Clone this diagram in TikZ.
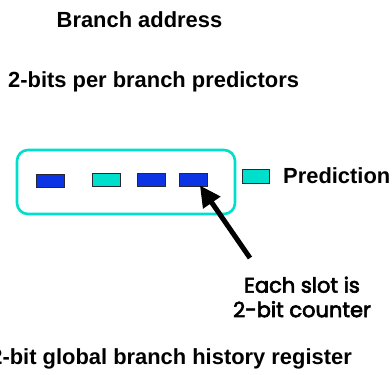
\documentclass[tikz,border=0pt]{standalone}
\usepackage{fontspec}
\setmainfont{Liberation Sans}
\newfontfamily\notefont{Poppins}[FakeBold=3]
\usetikzlibrary{arrows.meta}
\definecolor{slotblue}{RGB}{10,52,228}
\definecolor{slotcyan}{RGB}{0,222,204}
\definecolor{slotedge}{RGB}{40,40,50}
\tikzset{
  label/.style={inner sep=0pt, anchor=base west, font=\fontsize{21.9}{24}\selectfont\bfseries},
  slot/.style={draw=slotedge, line width=0.8pt, minimum width=28pt, minimum height=13pt, inner sep=0pt},
  bluesl/.style={slot, fill=slotblue},
  cyansl/.style={slot, fill=slotcyan},
  pointer/.style={line width=5pt, -{Triangle[length=21pt,width=20pt]}},
}
\begin{document}
\begin{tikzpicture}[x=1pt,y=-1pt]
\useasboundingbox (0,0) rectangle (392,375);
% headings
\node[label] (addr) at (56.5,27) {Branch address};
\node[label] (pred) at (8,87) {2-bits per branch predictors};
% predictor table
\draw[slotcyan, line width=2.6pt, rounded corners=11pt] (17,150) rectangle (235,214);
\node[bluesl] (s1) at (50,180.5) {};
\node[cyansl] (s2) at (106,179.5) {};
\node[bluesl] (s3) at (151.5,179.5) {};
\node[bluesl] (s4) at (193.5,179.5) {};
% legend
\node[cyansl, minimum width=27pt, minimum height=14pt] (leg) at (255.5,176) {};
\node[label] (legtxt) at (283,183) {Prediction};
% annotation
\node[inner sep=0pt, align=center, font=\notefont\fontsize{21}{24.5}\selectfont] (note) at (302,297) {Each slot is\\2-bit counter};
\coordinate (tail) at (250,258);
\draw[pointer] (tail) -- ([xshift=-8pt,yshift=1pt]s4.south east);
% history register
\node[label, anchor=base east] (ghr) at (352,364) {2-bit global branch history register};
\end{tikzpicture}
\end{document}
